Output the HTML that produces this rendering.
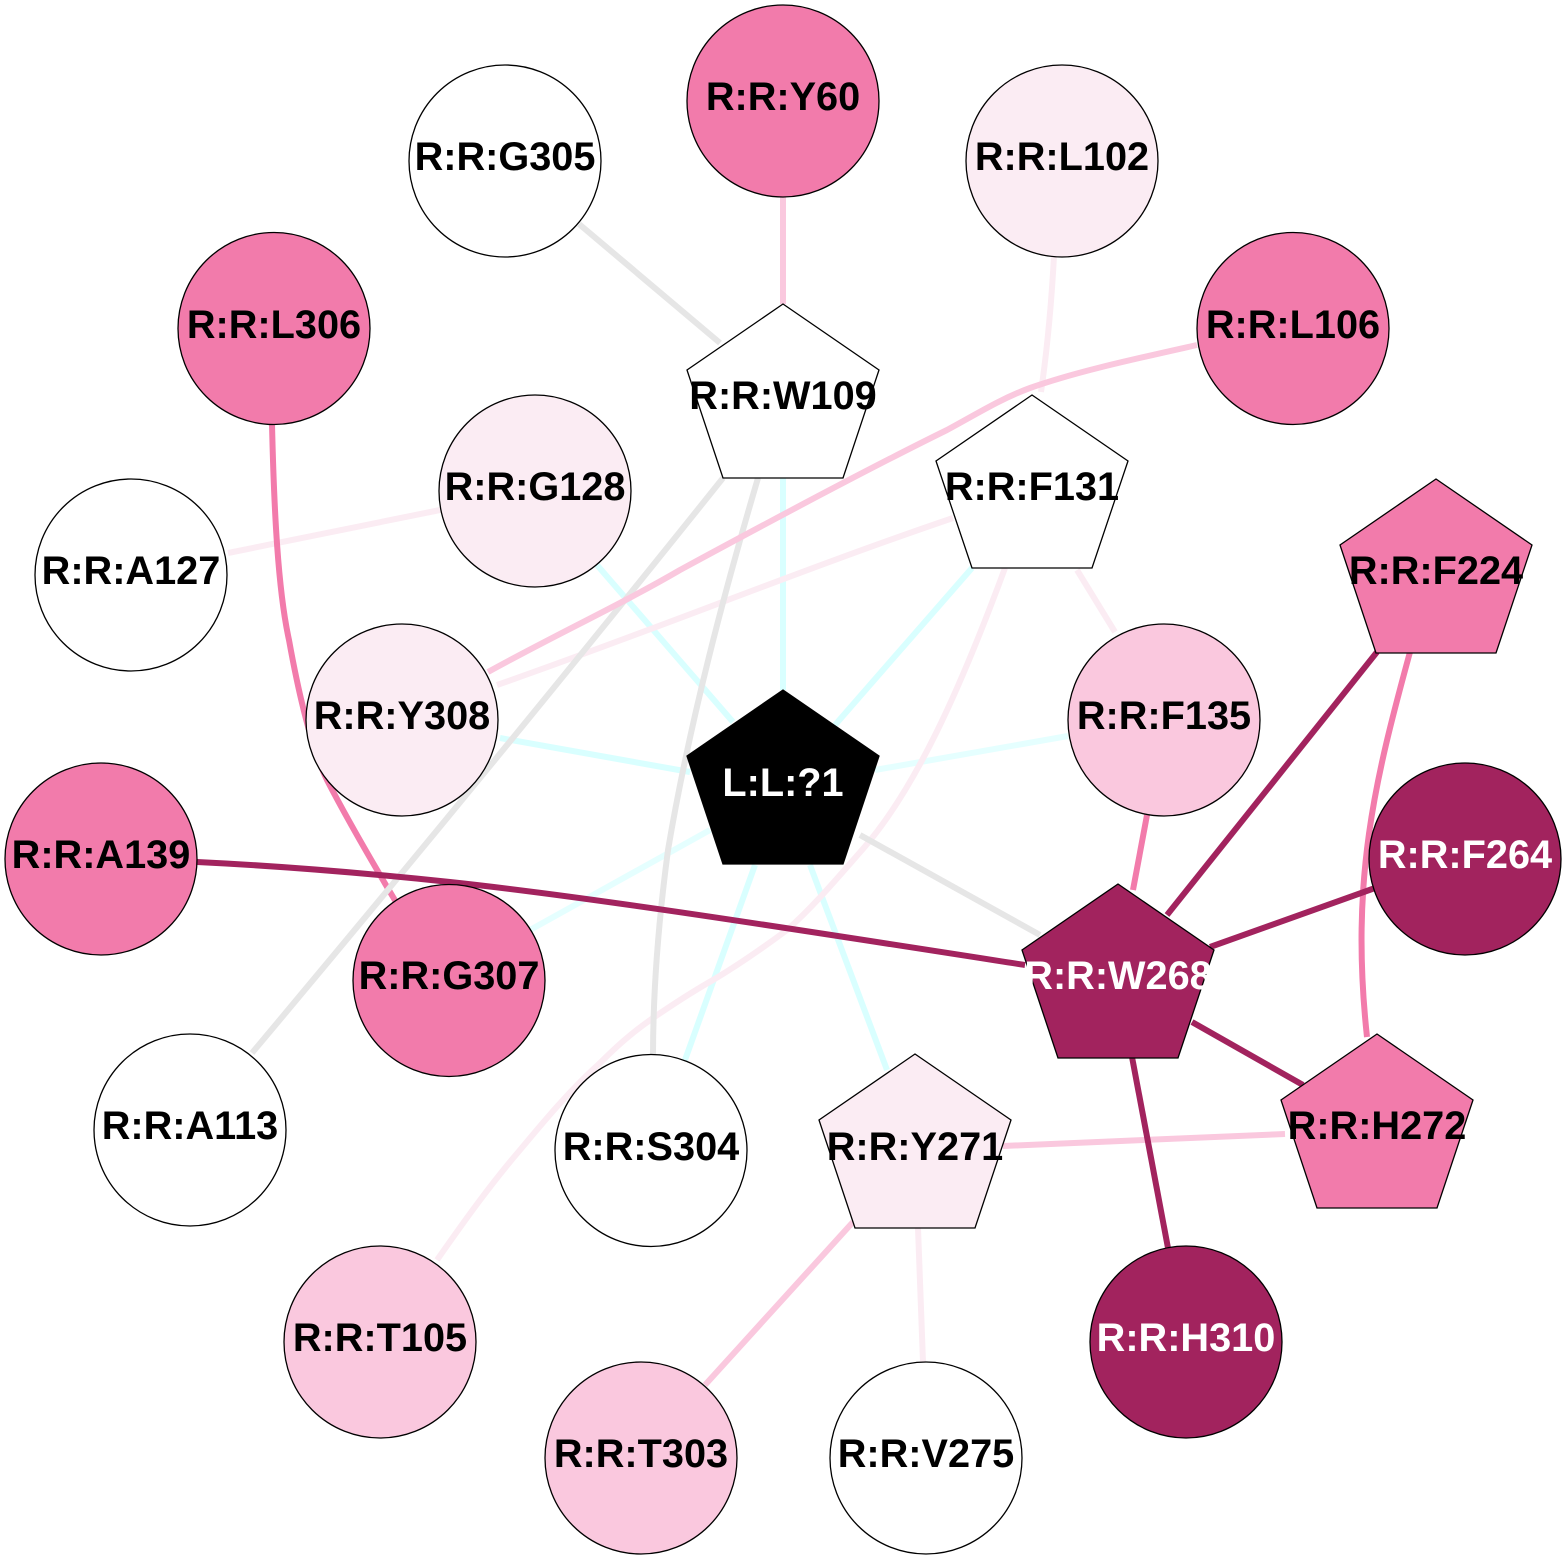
<!DOCTYPE html>
<html>
<head>
<meta charset="utf-8">
<style>
html,body{margin:0;padding:0;background:#fff;}
svg{display:block;}
text{font-family:"Liberation Sans",Arial,sans-serif;font-weight:bold;font-size:39.7px;text-anchor:middle;}
path.e{fill:none;stroke-linecap:butt;stroke-width:6;}
circle,polygon{stroke:#000;stroke-width:1.3;}
</style>
</head>
<body>
<svg width="1567" height="1559" viewBox="0 0 1567 1559" xmlns="http://www.w3.org/2000/svg">
<g>
<path class="e" stroke="#d9ffff" d="M597,565L733,722"/>
<path class="e" stroke="#d9ffff" d="M783,478L783,690"/>
<path class="e" stroke="#d9ffff" d="M972,568L835,725"/>
<path class="e" stroke="#d9ffff" d="M500,738L690,772"/>
<path class="e" stroke="#e5ffff" d="M1068,736L875,770"/>
<path class="e" stroke="#e5ffff" d="M710,830L530,930"/>
<path class="e" stroke="#d9ffff" d="M755,865L685,1060"/>
<path class="e" stroke="#d9ffff" d="M810,865L887,1070"/>

<path class="e" stroke="#fbecf3" d="M1054,256Q1050,330 1041,392"/>
<path class="e" stroke="#fbecf3" d="M228,553L440,510"/>
<path class="e" stroke="#fbecf3" d="M953,518C800,570 660,628 497,685"/>
<path class="e" stroke="#fbecf3" d="M1077,570L1115,632"/>
<path class="e" stroke="#fbecf3" d="M1005,568C960,690 915,790 862,850C840,875 815,905 787,930C760,950 735,967 713,980C690,993 672,1005 653,1018C630,1034 615,1048 600,1063C570,1090 545,1120 520,1150C490,1185 465,1220 437,1260"/>
<path class="e" stroke="#fbecf3" d="M918,1228L923,1362"/>

<path class="e" stroke="#f27bab" d="M272,424C274,510 278,590 289,640C298,690 310,745 327,780C345,815 365,850 396,902"/>
<path class="e" stroke="#f27bab" d="M1147,815L1133,890"/>
<path class="e" stroke="#f27bab" d="M1410,652C1375,780 1350,880 1367,1037"/>

<path class="e" stroke="#e6e6e6" d="M579,224L720,343"/>
<path class="e" stroke="#e6e6e6" d="M723,478Q496,762 252,1053"/>
<path class="e" stroke="#e6e6e6" d="M758,478C725,590 690,720 668,850C660,910 653,980 653,1056"/>
<path class="e" stroke="#e6e6e6" d="M860,835L1040,935"/>

<path class="e" stroke="#fac8de" d="M783,197L783,304"/>
<path class="e" stroke="#fac8de" d="M1197,345C1130,360 1075,372 1030,388C1000,399 975,415 947,430C890,458 800,505 680,570C620,605 555,635 488,672"/>
<path class="e" stroke="#fac8de" d="M1003,1146L1285,1134"/>
<path class="e" stroke="#fac8de" d="M853,1222L705,1385"/>

<path class="e" stroke="#a2235e" d="M197,862C280,866 365,873 450,882C590,897 800,930 1025,965"/>
<path class="e" stroke="#a2235e" d="M1377,652L1167,915"/>
<path class="e" stroke="#a2235e" d="M1375,888L1210,947"/>
<path class="e" stroke="#a2235e" d="M1192,1022L1303,1085"/>
<path class="e" stroke="#a2235e" d="M1132,1057L1168,1248"/>
</g>
<g>
<circle cx="505" cy="161" r="96" fill="#ffffff"/>
<circle cx="783" cy="101" r="96" fill="#f27bab"/>
<circle cx="1062" cy="161" r="96" fill="#fbecf3"/>
<circle cx="274" cy="328.5" r="96" fill="#f27bab"/>
<circle cx="1293" cy="328.5" r="96" fill="#f27bab"/>
<circle cx="535" cy="491" r="96" fill="#fbecf3"/>
<circle cx="131" cy="575" r="96" fill="#ffffff"/>
<circle cx="402" cy="720" r="96" fill="#fbecf3"/>
<circle cx="1164" cy="720" r="96" fill="#fac8de"/>
<circle cx="101" cy="859" r="96" fill="#f27bab"/>
<circle cx="1465" cy="859" r="96" fill="#a2235e"/>
<circle cx="449" cy="980.5" r="96" fill="#f27bab"/>
<circle cx="190" cy="1130" r="96" fill="#ffffff"/>
<circle cx="651" cy="1150.5" r="96" fill="#ffffff"/>
<circle cx="380" cy="1342" r="96" fill="#fac8de"/>
<circle cx="641" cy="1458" r="96" fill="#fac8de"/>
<circle cx="926" cy="1458" r="96" fill="#ffffff"/>
<circle cx="1186" cy="1342" r="96" fill="#a2235e"/>
<polygon points="783,304 879,370 843,478 723,478 687,370" fill="#ffffff"/>
<polygon points="1032,395 1128,461 1092,568 972,568 936,461" fill="#ffffff"/>
<polygon points="1436,479 1532,545 1496,653 1376,653 1340,545" fill="#f27bab"/>
<polygon points="783,690 879,756 843,864 723,864 687,756" fill="#000000"/>
<polygon points="1118,884 1214,950 1178,1058 1058,1058 1022,950" fill="#a2235e"/>
<polygon points="1377,1034 1473,1100 1437,1208 1317,1208 1281,1100" fill="#f27bab"/>
<polygon points="915,1054 1011,1120 975,1228 855,1228 819,1120" fill="#fbecf3"/>
</g>
<g>
<text x="505" y="170">R:R:G305</text>
<text x="783" y="110">R:R:Y60</text>
<text x="1062" y="170">R:R:L102</text>
<text x="274" y="338">R:R:L306</text>
<text x="1293" y="338">R:R:L106</text>
<text x="535" y="500">R:R:G128</text>
<text x="131" y="584">R:R:A127</text>
<text x="402" y="729">R:R:Y308</text>
<text x="1164" y="729">R:R:F135</text>
<text x="101" y="868">R:R:A139</text>
<text x="1465" y="868" fill="#fff">R:R:F264</text>
<text x="449" y="989">R:R:G307</text>
<text x="190" y="1139">R:R:A113</text>
<text x="651" y="1160">R:R:S304</text>
<text x="380" y="1351">R:R:T105</text>
<text x="641" y="1467">R:R:T303</text>
<text x="926" y="1467">R:R:V275</text>
<text x="1186" y="1351" fill="#fff">R:R:H310</text>
<text x="783" y="409">R:R:W109</text>
<text x="1032" y="500">R:R:F131</text>
<text x="1436" y="584">R:R:F224</text>
<text x="783" y="796" fill="#fff">L:L:?1</text>
<text x="1118" y="989" fill="#fff">R:R:W268</text>
<text x="1377" y="1139">R:R:H272</text>
<text x="915" y="1160">R:R:Y271</text>
</g>
</svg>
</body>
</html>
